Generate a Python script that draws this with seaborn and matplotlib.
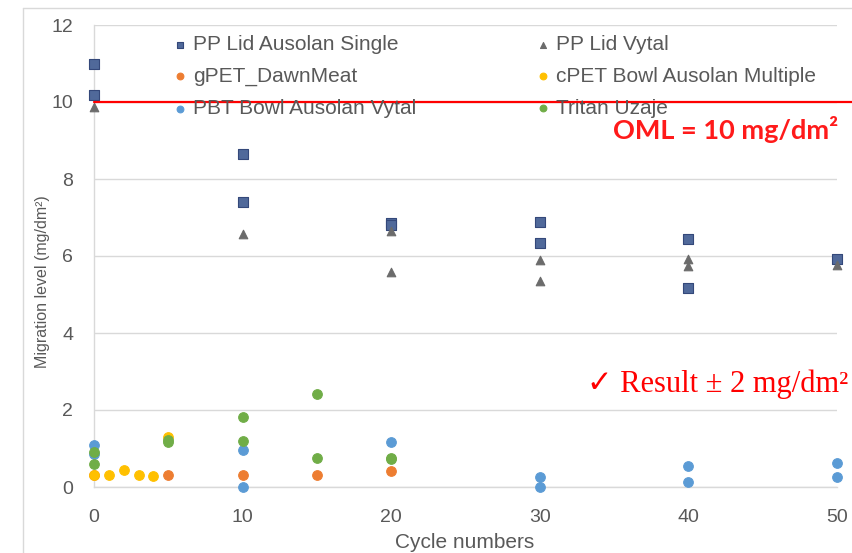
import matplotlib
matplotlib.use("Agg")
import matplotlib.pyplot as plt
from matplotlib.lines import Line2D
import seaborn as sns
import pandas as pd

# ---- data ----
pp_single_cycles = [0, 0, 10, 10, 20, 20, 30, 30, 40, 40, 50]
pp_single = [11.0, 10.17, 8.66, 7.41, 6.86, 6.80, 6.88, 6.33, 6.44, 5.17, 5.92]

pp_vytal_cycles = [0, 10, 20, 20, 30, 30, 40, 40, 50]
pp_vytal = [9.87, 6.56, 6.65, 5.58, 5.90, 5.35, 5.92, 5.74, 5.77]

gpet_cycles = [0, 5, 10, 15, 20]
gpet = [0.30, 0.30, 0.30, 0.30, 0.41]

cpet_cycles = [0, 1, 2, 3, 4, 5]
cpet = [0.30, 0.30, 0.43, 0.30, 0.29, 1.30]

pbt_cycles = [0, 0, 10, 10, 20, 30, 30, 40, 40, 50, 50]
pbt = [1.10, 0.86, 0.97, 0.00, 1.16, 0.27, 0.00, 0.55, 0.13, 0.62, 0.25]

tritan_cycles = [0, 0, 5, 5, 10, 10, 15, 15, 20, 20]
tritan = [0.91, 0.59, 1.18, 1.22, 1.81, 1.19, 2.42, 0.76, 0.76, 0.72]

series_names = ["PP Lid Ausolan Single", "PP Lid Vytal", "gPET_DawnMeat",
                "cPET Bowl Ausolan Multiple", "PBT Bowl Ausolan Vytal", "Tritan Uzaje"]

x_ticks = [0, 10, 20, 30, 40, 50]
y_ticks = [0, 2, 4, 6, 8, 10, 12]
oml_value = 10
x_label = "Cycle numbers"
y_label = "Migration level (mg/dm²)"
oml_text = "OML = 10 mg/dm²"
result_text = "✓ Result ± 2 mg/dm²"

# ---- styling ----
sns.set_theme(style="white")
plt.rcParams["font.family"] = ["Liberation Sans", "DejaVu Sans"]
grey_txt = "#595959"
grid_c = "#D9D9D9"

W, H = 853, 553
fig = plt.figure(figsize=(W / 100, H / 100), dpi=100)
ax = fig.add_axes([94 / W, 1 - 487 / H, (837 - 94) / W, (487 - 25) / H])

styles = [
    (pp_single_cycles, pp_single, "s", "#50699A", "#34487A", 42),
    (pp_vytal_cycles, pp_vytal, "^", "#6B6B6B", "#6B6B6B", 38),
    (gpet_cycles, gpet, "o", "#ED7D31", "#ED7D31", 48),
    (cpet_cycles, cpet, "o", "#FFC000", "#FFC000", 48),
    (pbt_cycles, pbt, "o", "#5B9BD5", "#5B9BD5", 48),
    (tritan_cycles, tritan, "o", "#70AD47", "#70AD47", 48),
]
for name, (xs, ys, mk, fc, ec, s) in zip(series_names, styles):
    df = pd.DataFrame({"cycle": xs, "value": ys})
    sns.scatterplot(data=df, x="cycle", y="value", ax=ax, marker=mk, s=s,
                    color=fc, edgecolor=ec, linewidth=0.8, label=name,
                    clip_on=False, zorder=3)

ax.set_xlim(0, 50)
ax.set_ylim(0, 12)
ax.set_xticks(x_ticks)
ax.set_yticks(y_ticks)
ax.tick_params(axis="both", length=0, labelsize=14, labelcolor=grey_txt)
ax.tick_params(axis="y", pad=15)
ax.tick_params(axis="x", pad=16)
ax.yaxis.grid(True, color=grid_c, linewidth=1.0)
ax.xaxis.grid(False)
for side in ["top", "right"]:
    ax.spines[side].set_visible(False)
for side in ["left", "bottom"]:
    ax.spines[side].set_color(grid_c)
    ax.spines[side].set_linewidth(1.0)
ax.set_axisbelow(True)

ax.set_xlabel(x_label, fontsize=15, color=grey_txt)
ax.xaxis.set_label_coords((465 - 94) / (837 - 94), (487 - 542) / (487 - 25))
ax.xaxis.label.set_va("center")
ax.set_ylabel(y_label, fontsize=11.5, color=grey_txt)
ax.yaxis.set_label_coords((42 - 94) / (837 - 94), (487 - 282) / (487 - 25))
ax.yaxis.label.set_va("center")

# OML line extending to the right edge of the figure
ax.axhline(oml_value, xmin=0, xmax=(W - 94) / (837 - 94), color="#FF0000",
           linewidth=1.6, clip_on=False, zorder=4)

ax.text(50.1, 9.29, oml_text, ha="right", va="center", fontsize=19.5,
        fontweight="bold", color="#FF1A1A", family=["Lato", "DejaVu Sans"])
ax.text(50.75, 2.66, result_text, ha="right", va="center", fontsize=22,
        color="#FF0000", family=["Liberation Serif", "DejaVu Sans"])

handles, labels = ax.get_legend_handles_labels()
order = [0, 2, 4, 1, 3, 5]  # row-wise reading order in a 2-column legend
leg = ax.legend([handles[i] for i in order], [labels[i] for i in order],
                ncol=2, frameon=False, loc="upper left",
                bbox_to_anchor=(170 / W, 1 - 35 / H), bbox_transform=fig.transFigure,
                fontsize=15, labelspacing=0.62, columnspacing=5.6,
                handletextpad=0.1, handlelength=1.0, markerscale=0.7,
                borderaxespad=0, borderpad=0)
for t in leg.get_texts():
    t.set_color(grey_txt)

# outer chart-area frame (left and top edges visible)
fig.add_artist(Line2D([23 / W, 23 / W], [0, 1 - 8 / H], transform=fig.transFigure,
                      color=grid_c, linewidth=1.0))
fig.add_artist(Line2D([23 / W, 1], [1 - 8 / H, 1 - 8 / H], transform=fig.transFigure,
                      color=grid_c, linewidth=1.0))

fig.savefig("out.png", dpi=100)
